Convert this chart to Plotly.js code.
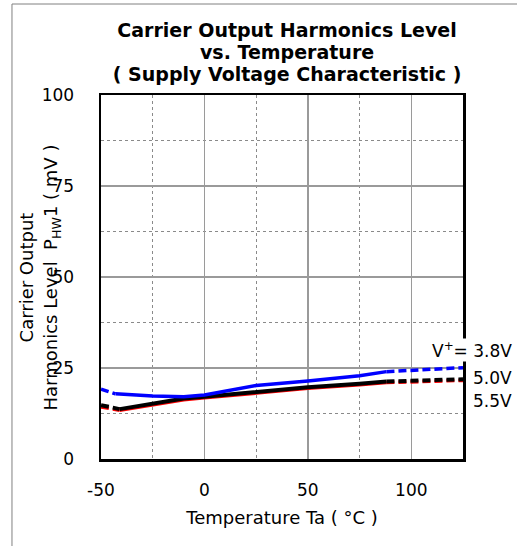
<!DOCTYPE html>
<html>
<head>
<meta charset="utf-8">
<script src="https://cdn.plot.ly/plotly-3.0.1.min.js"></script>
<style>html,body{margin:0;padding:0;background:#fff;}#chart{width:517px;height:546px;}</style>
</head>
<body>
<div id="chart"></div>
<script>
// Temperature (°C) and harmonics level P_HW1 (mV)
var tempDashLow_38 = [-50, -43];
var valDashLow_38 = [19.2, 17.9];
var tempSolid_38 = [-43, -25, -10, 0, 25, 50, 75, 88];
var valSolid_38 = [17.9, 17.3, 17.1, 17.6, 20.2, 21.4, 22.9, 24.0];
var tempDashHigh_38 = [88, 125];
var valDashHigh_38 = [24.0, 25.1];

var tempDashLow_50 = [-50, -41];
var valDashLow_50 = [14.8, 13.7];
var tempSolid_50 = [-41, -10, 0, 25, 50, 75, 88];
var valSolid_50 = [13.7, 16.6, 17.1, 18.5, 19.7, 20.7, 21.3];
var tempDashHigh_50 = [88, 125];
var valDashHigh_50 = [21.3, 21.9];

var tempDashLow_55 = [-50, -41];
var valDashLow_55 = [14.3, 13.4];
var tempSolid_55 = [-41, -10, 0, 25, 50, 75, 88];
var valSolid_55 = [13.4, 16.3, 16.8, 18.2, 19.4, 20.4, 21.0];
var tempDashHigh_55 = [88, 125];
var valDashHigh_55 = [21.0, 21.6];

var xTickVals = [-50, 0, 50, 100];
var yTickVals = [0, 25, 50, 75, 100];
var seriesLabels = ['V<sup>+</sup>= 3.8V', '5.0V', '5.5V'];
var labelY = [30, 22.3, 15.9];

var FONT = 'DejaVu Sans, Liberation Sans, Arial, sans-serif';

function joinDashed(t1, v1, t2, v2) {
  return {x: t1.concat([null]).concat(t2), y: v1.concat([null]).concat(v2)};
}

function seriesTraces(tl, vl, ts, vs, th, vh, color, width) {
  var d = joinDashed(tl, vl, th, vh);
  return [
    {x: d.x, y: d.y, mode: 'lines', type: 'scatter', connectgaps: false,
     line: {color: color, width: width, dash: '8px,4px'}, hoverinfo: 'skip', showlegend: false},
    {x: ts, y: vs, mode: 'lines', type: 'scatter',
     line: {color: color, width: width}, hoverinfo: 'skip', showlegend: false}
  ];
}

var data = []
  .concat(seriesTraces(tempDashLow_55, valDashLow_55, tempSolid_55, valSolid_55, tempDashHigh_55, valDashHigh_55, '#ff0000', 3.5))
  .concat(seriesTraces(tempDashLow_50, valDashLow_50, tempSolid_50, valSolid_50, tempDashHigh_50, valDashHigh_50, '#000000', 4))
  .concat(seriesTraces(tempDashLow_38, valDashLow_38, tempSolid_38, valSolid_38, tempDashHigh_38, valDashHigh_38, '#0000ff', 3.5));

var annotations = [
  {xref: 'paper', yref: 'paper', x: -0.17, y: 0.5, xanchor: 'center', yanchor: 'middle',
   textangle: -90, showarrow: false, align: 'center',
   text: 'Carrier Output<br>Harmonics Level  P<sub>HW</sub>1 ( mV )',
   font: {family: FONT, size: 18, color: '#000'}}
];
for (var i = 0; i < seriesLabels.length; i++) {
  annotations.push({xref: 'paper', yref: 'y', x: 1.138, y: labelY[i], xanchor: 'right', yanchor: 'middle',
    showarrow: false, text: seriesLabels[i], bgcolor: i === 0 ? '#ffffff' : 'rgba(0,0,0,0)',
    borderpad: 0, font: {family: FONT, size: 17, color: '#000'}});
}

var layout = {
  width: 517, height: 546,
  margin: {l: 101, r: 54, t: 95, b: 87, pad: 0},
  paper_bgcolor: '#ffffff', plot_bgcolor: '#ffffff',
  font: {family: FONT, size: 17, color: '#000'},
  showlegend: false,
  title: {
    text: '<span style="font-size:19px"><b>Carrier Output Harmonics Level</b></span><br><span style="font-size:19px"><b>vs. Temperature</b></span><br><span style="font-size:19px"><b>( Supply Voltage Characteristic )</b></span>',
    font: {family: FONT, size: 17, color: '#000'},
    xref: 'paper', x: 0.514, xanchor: 'center',
    yref: 'container', y: 1 - 37 / 546, yanchor: 'top'
  },
  xaxis: {
    range: [-50, 125], tickvals: xTickVals, ticktext: xTickVals.map(String),
    showgrid: true, gridcolor: '#9a9a9a', gridwidth: 1.5,
    minor: {dtick: 25, tick0: -50, showgrid: true, gridcolor: '#8a8a8a', griddash: 'dot', gridwidth: 1},
    showline: true, mirror: true, linecolor: '#000', linewidth: 2.5,
    ticks: '', ticklabelstandoff: 14, zeroline: false, fixedrange: true,
    tickfont: {family: FONT, size: 17, color: '#000'},
    title: {text: 'Temperature Ta ( °C )', standoff: 13, font: {family: FONT, size: 18, color: '#000'}},
    automargin: false
  },
  yaxis: {
    range: [0, 100], tickvals: yTickVals, ticktext: yTickVals.map(String),
    showgrid: true, gridcolor: '#9a9a9a', gridwidth: 1.5,
    minor: {dtick: 12.5, tick0: 0, showgrid: true, gridcolor: '#8a8a8a', griddash: 'dot', gridwidth: 1},
    showline: true, mirror: true, linecolor: '#000', linewidth: 2.5,
    ticks: '', ticklabelstandoff: 21, zeroline: false, fixedrange: true,
    tickfont: {family: FONT, size: 17, color: '#000'},
    automargin: false
  },
  annotations: annotations,
  shapes: [
    {type: 'line', xref: 'paper', yref: 'paper', x0: -0.2459, x1: -0.2459, y0: -0.5, y1: 1.25, line: {color: '#808080', width: 1}, layer: 'above'},
    {type: 'line', xref: 'paper', yref: 'paper', x0: -0.2459, x1: 1.5, y0: 1.25, y1: 1.25, line: {color: '#808080', width: 1}, layer: 'above'}
  ]
};

Plotly.newPlot('chart', data, layout, {displayModeBar: false, staticPlot: true});
</script>
</body>
</html>
